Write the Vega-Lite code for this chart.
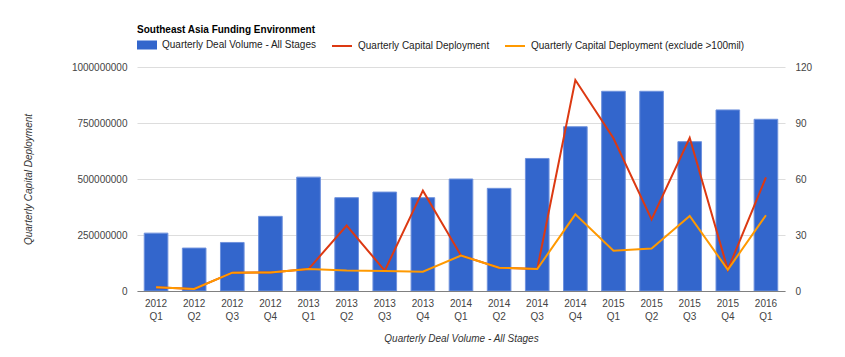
{
  "$schema": "https://vega.github.io/schema/vega-lite/v6.json",
  "width": 648,
  "height": 224,
  "autosize": {"type": "none"},
  "padding": {"left": 137, "top": 67, "right": 60, "bottom": 66},
  "background": "white",
  "title": {
    "text": "Southeast Asia Funding Environment",
    "anchor": "start",
    "frame": "group",
    "font": "Liberation Sans",
    "fontSize": 10,
    "fontWeight": "bold",
    "color": "#000000",
    "orient": "top",
    "offset": 0
  },
  "config": {
    "view": {"stroke": null},
    "font": "Liberation Sans",
    "axis": {
      "labelFont": "Liberation Sans",
      "titleFont": "Liberation Sans",
      "labelFontSize": 10,
      "titleFontSize": 10,
      "labelColor": "#444444",
      "titleColor": "#333333",
      "titleFontStyle": "italic",
      "titleFontWeight": "normal",
      "ticks": false
    },
    "legend": {
      "labelFont": "Liberation Sans",
      "labelFontSize": 10,
      "labelColor": "#222222",
      "labelOffset": 5,
      "columnPadding": 11,
      "labelLimit": 400,
      "symbolSize": 400,
      "symbolOpacity": 1
    }
  },
  "data": {
    "values": [
      {"q": "2012 Q1", "deals": 31, "cap": 17000000, "capEx": 17000000},
      {"q": "2012 Q2", "deals": 23, "cap": 9000000, "capEx": 9000000},
      {"q": "2012 Q3", "deals": 26, "cap": 82000000, "capEx": 82000000},
      {"q": "2012 Q4", "deals": 40, "cap": 83000000, "capEx": 83000000},
      {"q": "2013 Q1", "deals": 61, "cap": 98000000, "capEx": 98000000},
      {"q": "2013 Q2", "deals": 50, "cap": 292000000, "capEx": 91000000},
      {"q": "2013 Q3", "deals": 53, "cap": 91000000, "capEx": 89000000},
      {"q": "2013 Q4", "deals": 50, "cap": 448000000, "capEx": 86000000},
      {"q": "2014 Q1", "deals": 60, "cap": 159000000, "capEx": 158000000},
      {"q": "2014 Q2", "deals": 55, "cap": 104000000, "capEx": 104000000},
      {"q": "2014 Q3", "deals": 71, "cap": 98000000, "capEx": 98000000},
      {"q": "2014 Q4", "deals": 88, "cap": 942000000, "capEx": 342000000},
      {"q": "2015 Q1", "deals": 107, "cap": 682000000, "capEx": 180000000},
      {"q": "2015 Q2", "deals": 107, "cap": 320000000, "capEx": 190000000},
      {"q": "2015 Q3", "deals": 80, "cap": 684000000, "capEx": 335000000},
      {"q": "2015 Q4", "deals": 97, "cap": 95000000, "capEx": 95000000},
      {"q": "2016 Q1", "deals": 92, "cap": 507000000, "capEx": 338000000}
    ]
  },
  "encoding": {
    "x": {
      "field": "q",
      "type": "nominal",
      "sort": null,
      "scale": {"paddingInner": 0.38, "paddingOuter": 0.19},
      "axis": {
        "title": "Quarterly Deal Volume - All Stages",
        "labelAngle": 0,
        "labelExpr": "split(datum.label, ' ')",
        "labelLineHeight": 13,
        "labelPadding": 7,
        "titlePadding": 12,
        "domainColor": "#808080",
        "domainWidth": 1,
        "grid": false,
        "zindex": 1
      }
    }
  },
  "layer": [
    {
      "mark": {"type": "bar", "stroke": "#6f92dd", "strokeWidth": 1},
      "encoding": {
        "y": {
          "field": "deals",
          "type": "quantitative",
          "scale": {"domain": [0, 120], "nice": false},
          "axis": {
            "orient": "right",
            "title": null,
            "values": [0, 30, 60, 90, 120],
            "grid": false,
            "domain": false,
            "labelPadding": 10
          }
        },
        "fill": {
          "datum": "Quarterly Deal Volume - All Stages",
          "type": "nominal",
          "scale": {
            "domain": ["Quarterly Deal Volume - All Stages"],
            "range": ["#3366cc"]
          },
          "legend": {
            "title": null,
            "orient": "none",
            "legendX": 0,
            "legendY": -32,
            "direction": "horizontal",
            "symbolType": "M-1,-0.45H1V0.45H-1Z",
            "symbolStrokeWidth": 0
          }
        }
      }
    },
    {
      "layer": [
        {
          "mark": {"type": "line", "strokeWidth": 2},
          "encoding": {
            "y": {
              "field": "cap",
              "type": "quantitative",
              "scale": {"domain": [0, 1000000000], "nice": false},
              "axis": {
                "orient": "left",
                "title": "Quarterly Capital Deployment",
                "values": [0, 250000000, 500000000, 750000000, 1000000000],
                "format": "d",
                "grid": true,
                "gridColor": "#dddddd",
                "domain": false,
                "labelPadding": 10,
                "titlePadding": 38
              }
            },
            "stroke": {
              "datum": "Quarterly Capital Deployment",
              "type": "nominal",
              "scale": {
                "domain": ["Quarterly Capital Deployment", "Quarterly Capital Deployment (exclude >100mil)"],
                "range": ["#dc3912", "#ff9900"]
              },
              "legend": {
                "title": null,
                "orient": "none",
                "legendX": 194,
                "legendY": -32,
                "direction": "horizontal",
                "symbolType": "stroke",
                "symbolStrokeWidth": 2
              }
            }
          }
        },
        {
          "mark": {"type": "line", "strokeWidth": 2},
          "encoding": {
            "y": {"field": "capEx", "type": "quantitative"},
            "stroke": {"datum": "Quarterly Capital Deployment (exclude >100mil)", "type": "nominal"}
          }
        }
      ]
    }
  ],
  "resolve": {"scale": {"y": "independent"}}
}
